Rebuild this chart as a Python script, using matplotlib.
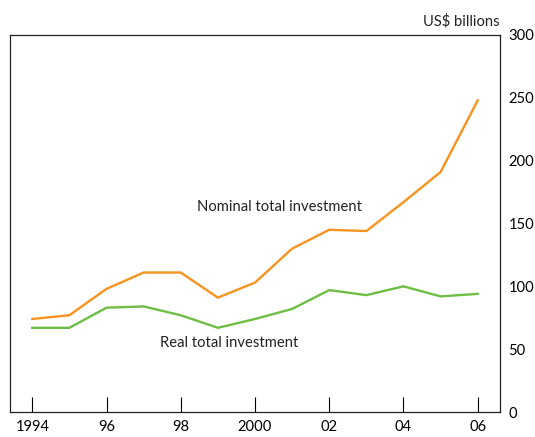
import matplotlib
matplotlib.use('Agg')
import matplotlib.pyplot as plt

plt.rcParams['font.family'] = ['Lato', 'DejaVu Sans']

# values (US$ billions)
years = [1994, 1995, 1996, 1997, 1998, 1999, 2000, 2001, 2002, 2003, 2004, 2005, 2006]
nominal = [74, 77, 98, 111, 111, 91, 103, 130, 145, 144, 167, 191, 248]
real = [67, 67, 83, 84, 77, 67, 74, 82, 97, 93, 100, 92, 94]

xticks = [1994, 1996, 1998, 2000, 2002, 2004, 2006]
xlabels = ['1994', '96', '98', '2000', '02', '04', '06']
yticks = [0, 50, 100, 150, 200, 250, 300]

orange = '#F7931E'
green = '#6DBE45'
fs = 10.6

fig = plt.figure(figsize=(5.35, 4.37), dpi=100)
ax = fig.add_axes([10/535, 1 - 412/437, 490/535, 377/437])

ax.plot(years, nominal, color=orange, lw=1.7, solid_joinstyle='miter')
ax.plot(years, real, color=green, lw=1.7, solid_joinstyle='miter')

ax.set_xlim(1993.4, 2006.6)
ax.set_ylim(0, 300)

ax.set_xticks(xticks)
ax.set_xticklabels(xlabels)
ax.set_yticks(yticks)

ax.tick_params(axis='x', direction='in', length=10.5, width=0.8, pad=6,
               labelsize=fs, top=False)
ax.tick_params(axis='y', direction='in', length=10.5, width=0.8, pad=6,
               labelsize=fs, left=True, right=True, labelleft=False, labelright=True)
# no tick marks at the corners
for t in ax.yaxis.get_major_ticks():
    if t.get_loc() in (0, 300):
        t.tick1line.set_visible(False)
        t.tick2line.set_visible(False)

for s in ax.spines.values():
    s.set_linewidth(0.9)
    s.set_color('#222222')

ax.text(2000.67, 163, 'Nominal total investment', fontsize=fs, ha='center', va='center',
        color='#222222')
ax.text(1999.3, 55, 'Real total investment', fontsize=fs, ha='center', va='center',
        color='#222222')
fig.text(500/535, 1 - 21/437, 'US$ billions', fontsize=fs, ha='right', va='center',
         color='#222222')

fig.savefig('out.png', dpi=100)
